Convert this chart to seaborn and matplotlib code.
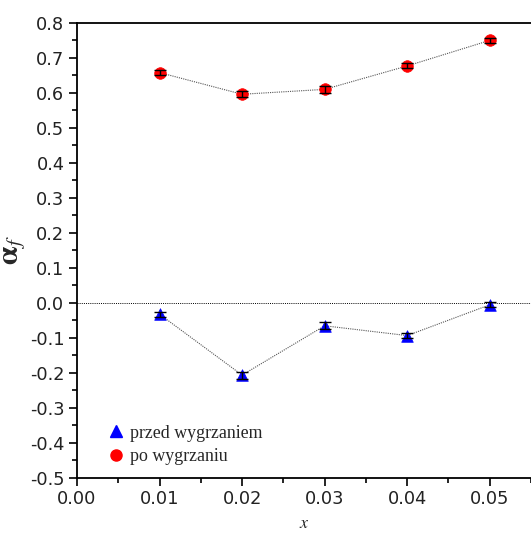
import matplotlib
matplotlib.use("Agg")
import matplotlib.pyplot as plt
import seaborn as sns
import pandas as pd
import numpy as np
from matplotlib.ticker import MultipleLocator, FormatStrFormatter
from matplotlib.lines import Line2D

x_vals = [0.01, 0.02, 0.03, 0.04, 0.05]
before = [-0.033, -0.207, -0.066, -0.094, -0.006]
before_err = [0.007, 0.010, 0.010, 0.008, 0.007]
after = [0.658, 0.596, 0.610, 0.677, 0.750]
after_err = [0.007, 0.008, 0.010, 0.007, 0.006]
labels = ["przed wygrzaniem", "po wygrzaniu"]

sns.set_style("ticks")
plt.rcParams['font.family'] = ['DejaVu Sans']
plt.rcParams['mathtext.fontset'] = 'stix'

fig = plt.figure(figsize=(5.31, 5.33), dpi=100)
ax = fig.add_axes([0.145, 0.104, 0.855, 0.853])

ax.axhline(0, color='black', lw=0.7, ls=(0, (1, 1.2)), zorder=1)

df_b = pd.DataFrame({"x": x_vals, "y": before})
df_a = pd.DataFrame({"x": x_vals, "y": after})

for df, err, color, marker in [(df_b, before_err, 'blue', '^'), (df_a, after_err, 'red', 'o')]:
    sns.lineplot(data=df, x="x", y="y", ax=ax, color='#555555', lw=0.8,
                 linestyle=(0, (1, 1)), zorder=2)
    sns.scatterplot(data=df, x="x", y="y", ax=ax, color=color, marker=marker,
                    s=70, edgecolor=color, linewidth=0.5, zorder=3)
    ax.errorbar(df["x"], df["y"], yerr=err, fmt='none', ecolor='black',
                elinewidth=1.0, capsize=4, capthick=1.0, zorder=4)

ax.set_xlim(0.0, 0.055)
ax.set_ylim(-0.5, 0.8)
ax.xaxis.set_major_locator(MultipleLocator(0.01))
ax.xaxis.set_minor_locator(MultipleLocator(0.005))
ax.yaxis.set_major_locator(MultipleLocator(0.1))
ax.yaxis.set_minor_locator(MultipleLocator(0.05))
ax.xaxis.set_major_formatter(FormatStrFormatter('%.2f'))
ax.yaxis.set_major_formatter(FormatStrFormatter('%.1f'))
ax.tick_params(axis='both', which='major', direction='out', length=6, width=1.2,
               labelsize=12.8, color='black', labelcolor='#222222', pad=3)
ax.tick_params(axis='both', which='minor', direction='out', length=3.5, width=1.2,
               color='black')
ax.tick_params(axis='x', which='both', top=False)
ax.tick_params(axis='y', which='both', right=False)

for s in ['left', 'bottom', 'top']:
    ax.spines[s].set_linewidth(1.3)
    ax.spines[s].set_color('black')
ax.spines['right'].set_visible(False)

ax.set_xlabel('$x$', fontsize=13, labelpad=4)
ax.set_ylabel(r'$\mathbf{\alpha}_{f}$', fontsize=21, labelpad=1)

handles = [Line2D([], [], ls='none', marker='^', color='blue', markersize=8),
           Line2D([], [], ls='none', marker='o', color='red', markersize=8)]
ax.legend(handles, labels, loc='lower left', bbox_to_anchor=(0.066, 0.028),
          frameon=False, prop={'family': 'Liberation Serif', 'size': 12.9},
          handletextpad=0.3, labelspacing=0.35, handlelength=1.0,
          borderpad=0, borderaxespad=0)

fig.savefig("out.png", dpi=100)
